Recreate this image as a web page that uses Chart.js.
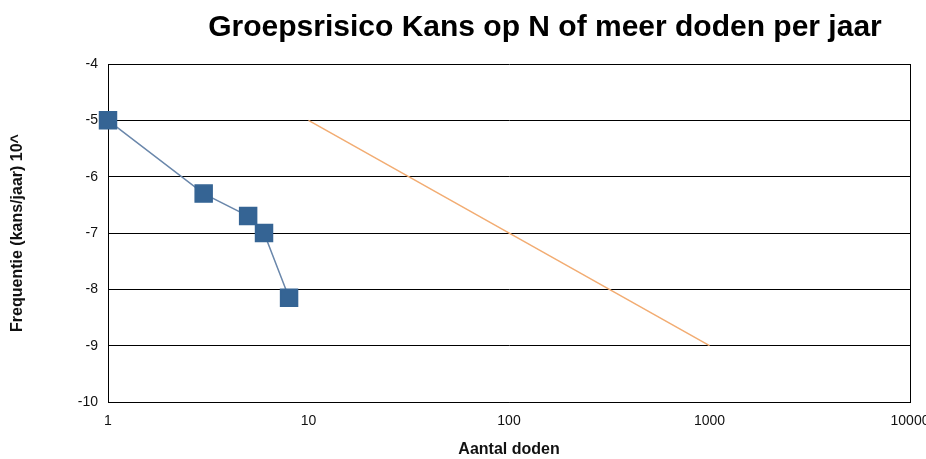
<!DOCTYPE html>
<html>
<head>
<meta charset="utf-8">
<script src="https://cdn.jsdelivr.net/npm/chart.js@4/dist/chart.umd.min.js"></script>
<style>
  html, body { margin: 0; padding: 0; background: #fff; }
  #wrap { width: 926px; height: 459px; }
</style>
</head>
<body>
<div id="wrap"><canvas id="c"></canvas></div>
<script>
// Groepsrisico: FN-curve vs. orienterende waarde
const titel = 'Groepsrisico Kans op N of meer doden per jaar';
const aantalDoden = [1, 3, 5, 6, 8];
const frequentie = [-5, -6.3, -6.7, -7, -8.15];
const normDoden = [10, 1000];
const normFrequentie = [-5, -9];

const FONT = '"Liberation Sans", Arial, sans-serif';

// title is drawn by hand so it can sit off-centre like the original
const titlePlugin = {
  id: 'titel',
  afterDraw(chart) {
    const ctx = chart.ctx;
    ctx.save();
    ctx.font = 'bold 30px ' + FONT;
    ctx.fillStyle = '#000';
    ctx.textAlign = 'center';
    ctx.textBaseline = 'middle';
    ctx.fillText(titel, 545, 28);
    ctx.restore();
  }
};

new Chart(document.getElementById('c'), {
  type: 'scatter',
  data: {
    datasets: [
      {
        data: aantalDoden.map((x, i) => ({ x, y: frequentie[i] })),
        showLine: true,
        clip: false,
        borderColor: '#6a87ab',
        borderWidth: 1.5,
        backgroundColor: '#356494',
        pointStyle: 'rect',
        pointRadius: 12,
        pointHoverRadius: 12,
        pointBorderColor: '#356494',
      },
      {
        data: normDoden.map((x, i) => ({ x, y: normFrequentie[i] })),
        showLine: true,
        borderColor: '#f2ac72',
        borderWidth: 1.5,
        pointRadius: 0,
      },
    ],
  },
  options: {
    responsive: true,
    maintainAspectRatio: false,
    animation: false,
    layout: { padding: { left: 0, right: 16, top: 64, bottom: 0 } },
    plugins: { legend: { display: false }, tooltip: { enabled: false } },
    scales: {
      x: {
        type: 'logarithmic',
        min: 1, max: 10000,
        afterFit(s) { s.paddingLeft = 0; s.paddingRight = 0; s.height = 57; },
        grid: {
          drawTicks: false,
          color: c => (c.tick && (c.tick.value === 1 || c.tick.value === 10000)) ? '#000' : 'rgba(0,0,0,0)',
        },
        border: { color: '#000', width: 1 },
        ticks: {
          autoSkip: false,
          maxRotation: 0,
          padding: 11,
          color: '#111',
          font: { family: FONT, size: 14 },
          callback: v => Number.isInteger(Math.log10(v)) ? String(v) : '',
        },
        title: {
          display: true,
          text: 'Aantal doden',
          color: '#111',
          font: { family: FONT, size: 16, weight: 'bold' },
          padding: { top: 6, bottom: 0 },
        },
      },
      y: {
        min: -10, max: -4,
        afterFit(s) { s.width = 108; },
        grid: { drawTicks: false, color: '#000' },
        border: { color: '#000', width: 1 },
        ticks: {
          stepSize: 1,
          padding: 10,
          color: '#111',
          font: { family: FONT, size: 14 },
        },
        title: {
          display: true,
          text: 'Frequentie (kans/jaar) 10^',
          color: '#111',
          font: { family: FONT, size: 16, weight: 'bold' },
          padding: { top: 8, bottom: 0 },
        },
      },
    },
  },
  plugins: [titlePlugin],
});
</script>
</body>
</html>
